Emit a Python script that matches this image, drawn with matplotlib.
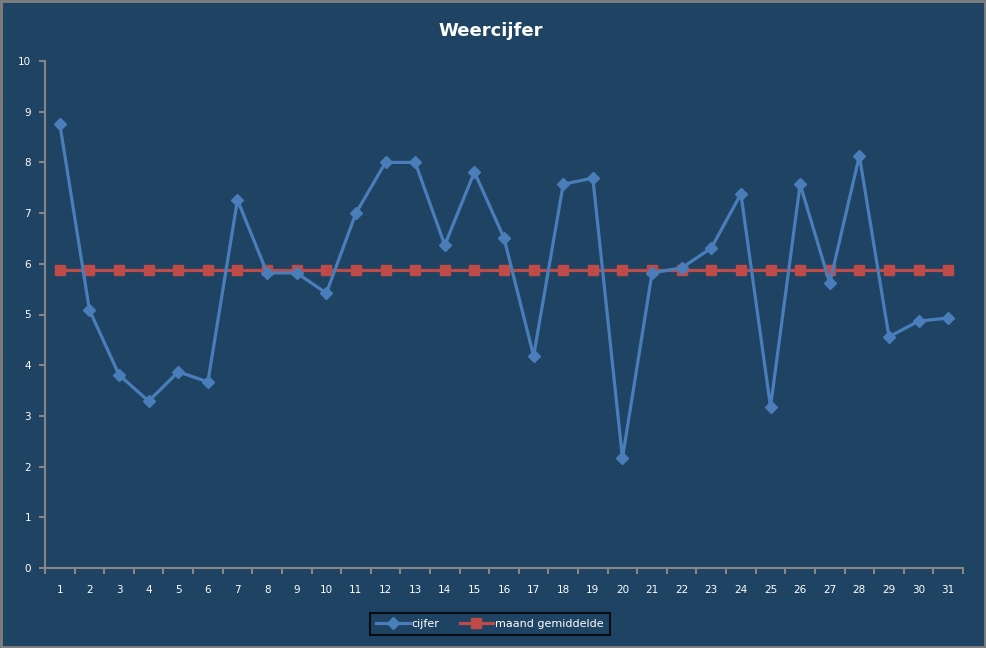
import matplotlib
matplotlib.use("Agg")
import matplotlib.pyplot as plt
from matplotlib.patches import Rectangle

days = list(range(1, 32))
cijfer = [8.76, 5.09, 3.81, 3.29, 3.87, 3.67, 7.26, 5.82, 5.82, 5.42,
          7.00, 8.00, 8.00, 6.37, 7.81, 6.51, 4.18, 7.57, 7.69, 2.17,
          5.82, 5.92, 6.31, 7.38, 3.18, 7.57, 5.62, 8.13, 4.56, 4.87, 4.93]
gemiddelde = [5.88] * 31
y_ticks = [0, 1, 2, 3, 4, 5, 6, 7, 8, 9, 10]

bg = "#1F4363"
blue = "#4A7EBB"
red = "#BE4B48"
axis_col = "#868686"

fig = plt.figure(figsize=(9.87, 6.48), dpi=100, facecolor=bg)
ax = fig.add_axes([45/987, 1-568/648, (963-45)/987, (568-61)/648])
ax.set_facecolor(bg)

ax.plot(days, cijfer, color=blue, lw=2.3, marker="D", ms=6.5, mec=blue, mfc=blue,
        label="cijfer", zorder=3)
ax.plot(days, gemiddelde, color=red, lw=2.3, marker="s", ms=7, mec=red, mfc=red,
        label="maand gemiddelde", zorder=2)

ax.set_xlim(0.5, 31.5)
ax.set_ylim(0, 10)
ax.set_yticks(y_ticks)
ax.set_xticks(days)
ax.set_xticklabels([str(d) for d in days])
ax.set_xticks([d + 0.5 for d in range(0, 32)], minor=True)

for s in ["top", "right"]:
    ax.spines[s].set_visible(False)
for s in ["left", "bottom"]:
    ax.spines[s].set_color(axis_col)
    ax.spines[s].set_linewidth(1.5)

ax.tick_params(axis="x", which="major", length=0, pad=12, labelsize=7.5, colors="white")
ax.tick_params(axis="x", which="minor", length=4, width=1.5, color=axis_col, direction="out")
ax.tick_params(axis="y", length=4, width=1.5, color=axis_col, labelsize=7.5,
               labelcolor="white", pad=6)

fig.text(491/987, 1-31/648, "Weercijfer", ha="center", va="center",
         color="white", fontsize=13, fontweight="bold")

leg = fig.legend(loc="center", bbox_to_anchor=(490/987, 1-624/648), ncol=2,
                 frameon=True, fontsize=8, handlelength=3, columnspacing=1.8,
                 handletextpad=0.2, borderpad=0.55, borderaxespad=0, fancybox=False)
leg.get_frame().set_facecolor(bg)
leg.get_frame().set_edgecolor("black")
leg.get_frame().set_linewidth(1.5)
for t in leg.get_texts():
    t.set_color("white")

fig.patches.append(Rectangle((0.001, 0.002), 0.997, 0.996, transform=fig.transFigure,
                             fill=False, edgecolor="#808080", lw=2))

fig.savefig("out.png", dpi=100, facecolor=bg)
